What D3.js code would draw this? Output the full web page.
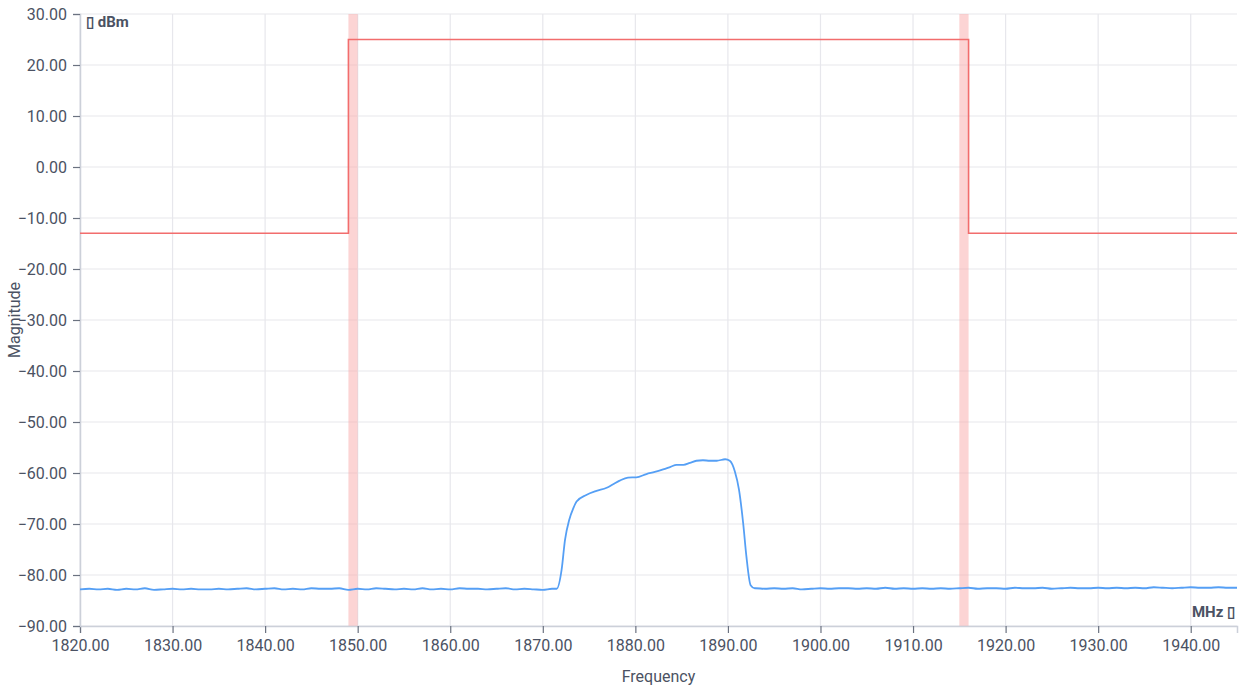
<!DOCTYPE html>
<html lang="en">
<head>
<meta charset="UTF-8">
<title>Spectrum</title>
<script src="https://cdn.jsdelivr.net/npm/d3@7"></script>
<style>
  body { margin: 0; background: #fff; }
  text { font-family: Roboto, "Noto Sans", sans-serif; }
</style>
</head>
<body>
<svg width="1244" height="689"></svg>
<script>
// axis ticks
var xTicks = [1820, 1830, 1840, 1850, 1860, 1870, 1880, 1890, 1900, 1910, 1920, 1930, 1940];
var yTicks = [30, 20, 10, 0, -10, -20, -30, -40, -50, -60, -70, -80, -90];

// mask limit line (MHz, dBm)
var maskFreq = [1820, 1849, 1849, 1916, 1916, 1945];
var maskLevel = [-13, -13, 25, 25, -13, -13];

// highlighted bands (MHz)
var bandStart = [1849, 1915];
var bandEnd = [1850, 1916];

// measured trace: noise floor left of the carrier, 1 MHz sweep points from 1820
var floorLeft = [
  -82.8, -82.7, -82.8, -82.7, -82.9, -82.7, -82.8, -82.6, -82.9, -82.8,
  -82.7, -82.8, -82.7, -82.8, -82.8, -82.7, -82.8, -82.7, -82.6, -82.8,
  -82.7, -82.6, -82.8, -82.7, -82.8, -82.6, -82.7, -82.7, -82.6, -82.9,
  -82.7, -82.8, -82.6, -82.7, -82.8, -82.7, -82.8, -82.6, -82.8, -82.7,
  -82.8, -82.6, -82.7, -82.7, -82.8, -82.7, -82.6, -82.8, -82.7, -82.8,
  -82.9, -82.7
];
// carrier
var carrierFreq = [1871.5, 1872.03, 1872.4, 1872.85, 1873.3, 1873.65, 1874.7, 1875.8, 1876.9, 1877.6,
  1878.3, 1879.2, 1880.1, 1881.2, 1882.1, 1883.0, 1883.8, 1884.45, 1885.2, 1885.9,
  1886.6, 1887.3, 1888.05, 1888.8, 1889.7, 1890.2, 1890.75, 1891.2, 1891.65, 1892.0,
  1892.45, 1892.9];
var carrierLevel = [-82.7, -79.0, -73.1, -69.2, -66.9, -65.6, -64.3, -63.5, -62.9, -62.2,
  -61.5, -60.9, -60.85, -60.2, -59.8, -59.3, -58.8, -58.4, -58.4, -58.0,
  -57.6, -57.5, -57.6, -57.6, -57.3, -57.6, -59.7, -63.3, -69.9, -76.4,
  -82.0, -82.6];
// noise floor right of the carrier, 1 MHz sweep points from 1893
var floorRight = [
  -82.6, -82.7, -82.6, -82.7, -82.6, -82.8, -82.7, -82.6, -82.7, -82.6,
  -82.6, -82.7, -82.6, -82.7, -82.5, -82.7, -82.6, -82.7, -82.6, -82.7,
  -82.6, -82.7, -82.6, -82.5, -82.7, -82.6, -82.6, -82.7, -82.5, -82.6,
  -82.6, -82.5, -82.7, -82.6, -82.5, -82.6, -82.6, -82.5, -82.6, -82.5,
  -82.6, -82.5, -82.6, -82.4, -82.5, -82.6, -82.5, -82.4, -82.5, -82.5,
  -82.4, -82.5, -82.5
];

var svg = d3.select('svg');
var margin = {top: 14, right: 7, bottom: 63, left: 80};
var width = 1244 - margin.left - margin.right;
var height = 689 - margin.top - margin.bottom;

var x = d3.scaleLinear().domain([1820, 1945]).range([0, width]);
var y = d3.scaleLinear().domain([-90, 30]).range([height, 0]);

var g = svg.append('g').attr('transform', 'translate(' + margin.left + ',' + margin.top + ')');

// grid
g.append('g').selectAll('line').data(xTicks).enter().append('line')
  .attr('x1', d => x(d)).attr('x2', d => x(d))
  .attr('y1', 0).attr('y2', height)
  .attr('stroke', '#e7e7ec').attr('stroke-width', 1.2);
g.append('g').selectAll('line').data(yTicks).enter().append('line')
  .attr('x1', 0).attr('x2', width)
  .attr('y1', d => y(d)).attr('y2', d => y(d))
  .attr('stroke', '#e7e7ec').attr('stroke-width', 1.2);

// bands
g.append('g').selectAll('rect').data(bandStart).enter().append('rect')
  .attr('x', d => x(d))
  .attr('width', (d, i) => x(bandEnd[i]) - x(d))
  .attr('y', 0).attr('height', height)
  .attr('fill', 'rgba(250, 170, 170, 0.5)');

// axes
var xAxis = g.append('g').attr('transform', 'translate(0,' + height + ')')
  .call(d3.axisBottom(x).tickValues(xTicks).tickFormat(d3.format('.2f')).tickSizeOuter(0).tickSize(7).tickPadding(4));
var yAxis = g.append('g')
  .call(d3.axisLeft(y).tickValues(yTicks).tickFormat(d3.format('.2f')).tickSizeOuter(0).tickSize(7).tickPadding(6));
[xAxis, yAxis].forEach(function (a) {
  a.select('.domain').attr('stroke', '#ccd0d9').attr('stroke-width', 1.5);
  a.selectAll('.tick line').attr('stroke', '#6b7280').attr('stroke-width', 1.2);
  a.selectAll('.tick text').attr('fill', '#4b5263').style('font-size', '16px').style('font-family', 'Roboto');
});
xAxis.selectAll('.tick text').attr('dy', '0.85em');

// mask line
var maskData = maskFreq.map((f, i) => [f, maskLevel[i]]);
g.append('path').datum(maskData)
  .attr('fill', 'none').attr('stroke', '#f26d6d').attr('stroke-width', 1.6)
  .attr('d', d3.line().x(d => x(d[0])).y(d => y(d[1])));

// measured trace
var trace = [];
floorLeft.forEach((v, i) => trace.push([1820 + i, v]));
carrierFreq.forEach((f, i) => trace.push([f, carrierLevel[i]]));
floorRight.forEach((v, i) => trace.push([1893 + i, v]));
g.append('path').datum(trace)
  .attr('fill', 'none').attr('stroke', '#559ff5').attr('stroke-width', 1.8)
  .attr('d', d3.line().curve(d3.curveMonotoneX).x(d => x(d[0])).y(d => y(d[1])));

// unit labels
g.append('text').attr('x', 6).attr('y', 13)
  .attr('fill', '#4b5263').style('font-size', '15px').style('font-weight', 'bold')
  .text('\u25AF dBm');
g.append('text').attr('x', width - 2).attr('y', height - 9).attr('text-anchor', 'end')
  .attr('fill', '#4b5263').style('font-size', '15px').style('font-weight', 'bold')
  .text('MHz \u25AF');

// axis titles
svg.append('text').attr('x', margin.left + width / 2).attr('y', 682).attr('text-anchor', 'middle')
  .attr('fill', '#4b5263').style('font-size', '16px').text('Frequency');
svg.append('text').attr('transform', 'translate(20,' + (margin.top + height / 2) + ') rotate(-90)')
  .attr('text-anchor', 'middle')
  .attr('fill', '#4b5263').style('font-size', '16px').text('Magnitude');
</script>
</body>
</html>
